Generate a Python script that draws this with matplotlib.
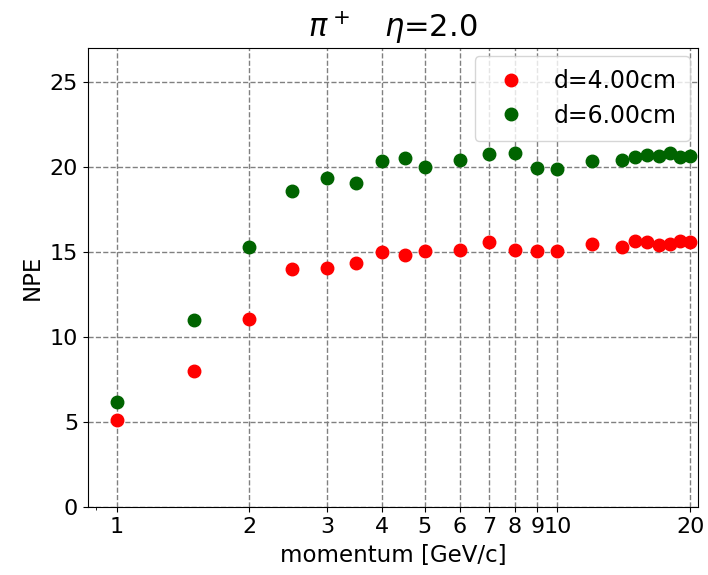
import matplotlib
matplotlib.use("Agg")
import matplotlib.pyplot as plt
from matplotlib.ticker import NullFormatter, FixedLocator

momentum = [1, 1.5, 2, 2.5, 3, 3.5, 4, 4.5, 5, 6, 7, 8, 9, 10, 12, 14, 15, 16, 17, 18, 19, 20]
npe_d4 = [5.1, 7.98, 11.08, 13.98, 14.06, 14.35, 14.98, 14.79, 15.04, 15.14, 15.61, 15.1, 15.04, 15.04,
          15.47, 15.31, 15.67, 15.61, 15.41, 15.49, 15.63, 15.59]
npe_d6 = [6.18, 10.98, 15.28, 18.59, 19.37, 19.04, 20.35, 20.49, 20.0, 20.43, 20.78, 20.84, 19.94, 19.9,
          20.33, 20.39, 20.55, 20.69, 20.65, 20.8, 20.59, 20.61]
xtick_vals = [1, 2, 3, 4, 5, 6, 7, 8, 9, 10, 20]
xtick_labels = ["1", "2", "3", "4", "5", "6", "7", "8", "9", "10", "20"]
ytick_vals = [0, 5, 10, 15, 20, 25]

fig = plt.figure(figsize=(7.08, 5.75), dpi=100)
ax = fig.add_axes([0.124, 0.118, 0.862, 0.799])

ax.plot(momentum, npe_d4, 'o', color='red', markersize=9, label='d=4.00cm')
ax.plot(momentum, npe_d6, 'o', color='#006400', markersize=9, label='d=6.00cm')

ax.set_xscale('log')
ax.set_xlim(0.86, 20.85)
ax.set_ylim(0, 27)
ax.xaxis.set_major_locator(FixedLocator(xtick_vals))
ax.set_xticklabels(xtick_labels)
ax.xaxis.set_minor_formatter(NullFormatter())
ax.set_yticks(ytick_vals)
ax.tick_params(labelsize=16)

ax.grid(True, which='major', linestyle='--', color='gray', linewidth=1)

ax.set_xlabel('momentum [GeV/c]', fontsize=16.5, labelpad=5)
ax.set_ylabel('NPE', fontsize=16.5)
ax.set_title(r'$\pi^+$   $\eta$=2.0', fontsize=22, pad=8)

leg = ax.legend(loc='upper right', fontsize=17, handletextpad=0.8, labelspacing=0.45,
                borderpad=0.55, borderaxespad=0.35)

fig.savefig('out.png', dpi=100)
